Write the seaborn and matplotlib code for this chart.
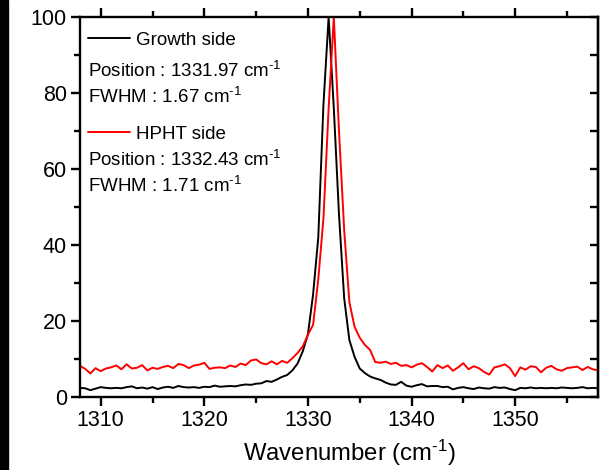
import numpy as np
import pandas as pd
import matplotlib
matplotlib.use('Agg')
import matplotlib.pyplot as plt
from matplotlib.ticker import MultipleLocator
from matplotlib.patches import Rectangle
import seaborn as sns

# Raman spectra (0.5 cm-1 grid)
wavenumber = np.arange(1308.0, 1358.01, 0.5)

growth_side = [
    2.4, 2.3, 1.8, 2.2, 2.6, 2.4, 2.3, 2.4, 2.3, 2.6,
    2.8, 2.3, 2.5, 2.2, 2.6, 2.1, 2.5, 2.7, 2.4, 2.9,
    2.6, 2.5, 2.6, 2.4, 2.7, 2.6, 3.0, 2.7, 2.8, 2.9,
    2.8, 3.1, 3.3, 3.2, 3.5, 3.6, 4.2, 4.0, 4.6, 5.3,
    5.8, 7.0, 8.8, 12.0, 16.5, 27.0, 42.0, 77.0, 100.0, 76.0,
    48.0, 26.0, 15.0, 10.6, 7.5, 6.3, 5.4, 4.9, 4.5, 3.8,
    3.3, 3.2, 4.0, 3.0, 2.7, 3.1, 3.4, 2.8, 2.9, 2.9,
    2.6, 2.7, 2.0, 2.4, 2.6, 2.3, 2.1, 2.5, 2.3, 2.2,
    2.6, 2.4, 2.5, 2.1, 1.8, 2.4, 2.3, 2.5, 2.3, 2.4,
    2.3, 2.4, 2.3, 2.5, 2.4, 2.3, 2.4, 2.6, 2.3, 2.4,
    2.3,
]

hpht_side = [
    8.2, 7.4, 6.2, 7.6, 6.8, 7.5, 7.8, 8.3, 7.3, 8.6,
    7.5, 7.7, 8.4, 7.0, 7.7, 7.4, 7.9, 8.2, 7.6, 8.7,
    8.4, 7.6, 8.3, 8.5, 9.0, 7.4, 7.7, 7.8, 7.6, 8.3,
    7.9, 8.8, 8.4, 9.6, 9.9, 8.9, 8.6, 9.4, 8.6, 9.5,
    9.0, 10.2, 11.6, 13.3, 16.4, 19.0, 31.0, 47.0, 76.0, 100.0,
    70.0, 44.0, 25.0, 18.5, 15.6, 13.7, 12.4, 9.2, 9.0, 9.3,
    8.7, 9.0, 8.2, 8.4, 7.8, 8.5, 8.9, 7.9, 6.7, 8.4,
    7.6, 8.3, 6.9, 7.8, 8.9, 7.3, 8.1, 7.6, 6.6, 5.9,
    7.8, 8.1, 8.6, 7.6, 5.5, 7.8, 7.2, 8.1, 7.9, 6.5,
    7.7, 8.2, 7.3, 6.9, 7.6, 7.8, 8.0, 7.1, 7.9, 7.3,
    7.0,
]

info_lines = [
    'Position : 1331.97 cm$^{\\text{-1}}$',
    'FWHM : 1.67 cm$^{\\text{-1}}$',
    'Position : 1332.43 cm$^{\\text{-1}}$',
    'FWHM : 1.71 cm$^{\\text{-1}}$',
]

df = pd.concat([
    pd.DataFrame({'Wavenumber': wavenumber, 'Intensity': growth_side, 'Side': 'Growth side'}),
    pd.DataFrame({'Wavenumber': wavenumber, 'Intensity': hpht_side, 'Side': 'HPHT side'}),
])

sns.set_style('ticks')
plt.rcParams['font.family'] = ['Liberation Sans', 'DejaVu Sans']
plt.rcParams['mathtext.fontset'] = 'custom'
plt.rcParams['mathtext.rm'] = 'Liberation Sans'
plt.rcParams['mathtext.it'] = 'Liberation Sans'
plt.rcParams['mathtext.bf'] = 'Liberation Sans:bold'
plt.rcParams['text.color'] = 'black'
plt.rcParams['axes.labelcolor'] = 'black'

fig = plt.figure(figsize=(6.01, 4.70), dpi=100)
ax = fig.add_axes([0.1331, 0.1553, 0.8619, 0.8085])

sns.lineplot(data=df, x='Wavenumber', y='Intensity', hue='Side',
             palette={'Growth side': 'black', 'HPHT side': 'red'},
             linewidth=1.4, ax=ax, legend=False)

ax.set_xlim(1308, 1358)
ax.set_ylim(0, 100)
ax.xaxis.set_major_locator(MultipleLocator(10))
ax.xaxis.set_minor_locator(MultipleLocator(5))
ax.yaxis.set_major_locator(MultipleLocator(20))
ax.yaxis.set_minor_locator(MultipleLocator(10))
ax.set_xlabel('Wavenumber (cm$^{\\text{-1}}$)', fontsize=17.2)
ax.xaxis.set_label_coords(0.52, -0.107)
ax.set_ylabel('')

for s in ax.spines.values():
    s.set_linewidth(1.7)
    s.set_visible(True)
    s.set_color('black')
ax.tick_params(which='both', direction='out', width=1.7, labelsize=15.5,
               top=True, right=False, colors='black')
ax.tick_params(which='major', length=6.5, pad=3)
ax.tick_params(which='minor', length=4)

sec = ax.secondary_yaxis('right')
sec.yaxis.set_major_locator(MultipleLocator(20))
sec.yaxis.set_minor_locator(MultipleLocator(10))
sec.tick_params(which='both', direction='in', width=1.7, labelright=False, colors='black')
sec.tick_params(which='major', length=6)
sec.tick_params(which='minor', length=6)
sec.spines['right'].set_linewidth(1.7)

# legend entries for the two spectra
leg = ax.legend(handles=ax.get_lines()[:2], labels=['Growth side', 'HPHT side'],
                loc='upper left', bbox_to_anchor=(0.0154, 0.962), borderaxespad=0,
                borderpad=0, frameon=False, fontsize=13.5, handlelength=2.25,
                handletextpad=0.3, labelspacing=4.1)

for txt, y in zip(info_lines, [0.858, 0.789, 0.624, 0.555]):
    ax.text(0.0154, y, txt, transform=ax.transAxes, fontsize=13.5,
            va='center', ha='left')

# dark strip at the left edge of the original scan
fig.patches.append(Rectangle((0, 0), 8 / 601, 1, transform=fig.transFigure,
                             color='black', zorder=-1))

plt.savefig('out.png', dpi=100)
